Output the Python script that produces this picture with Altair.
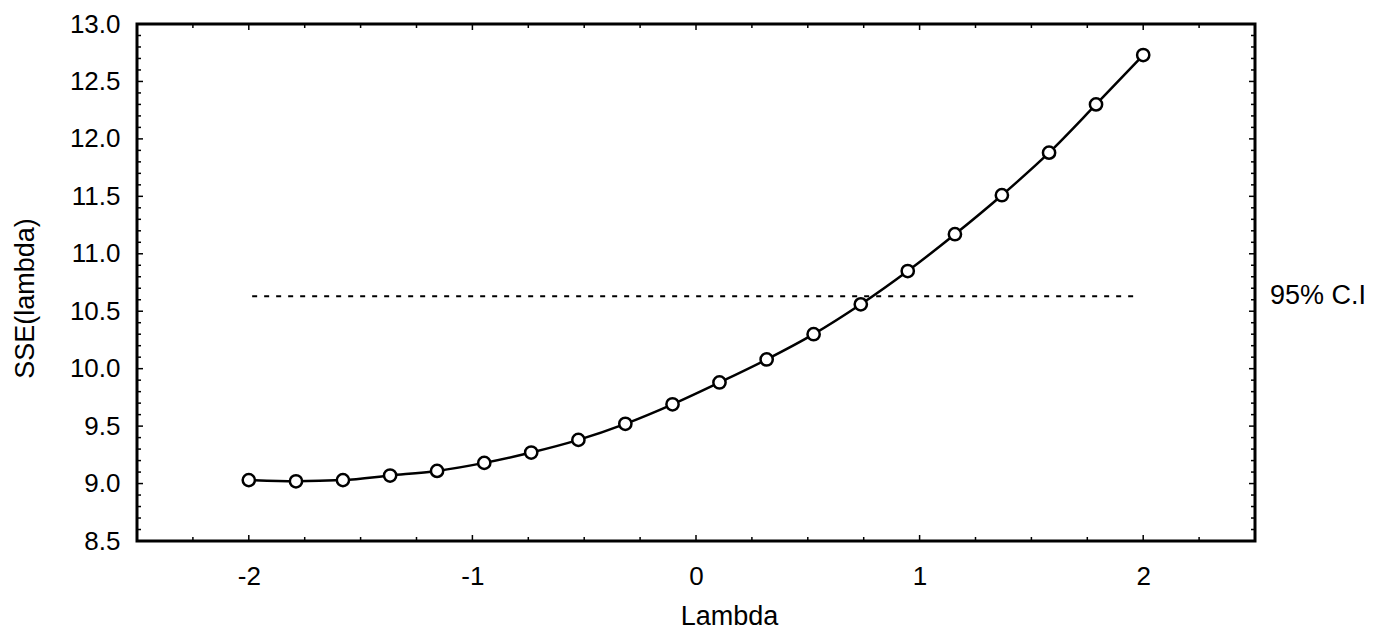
import altair as alt
import numpy as np
import pandas as pd

# Box-Cox profile: SSE as a function of lambda
lambdas = [-2.000, -1.789, -1.579, -1.368, -1.158, -0.947, -0.737, -0.526, -0.316, -0.105,
           0.105, 0.316, 0.526, 0.737, 0.947, 1.158, 1.368, 1.579, 1.789, 2.000]
sse = [9.03, 9.02, 9.03, 9.07, 9.11, 9.18, 9.27, 9.38, 9.52, 9.69,
       9.88, 10.08, 10.30, 10.56, 10.85, 11.17, 11.51, 11.88, 12.30, 12.73]

# 95% confidence threshold line
ci_level = 10.63
ci_span = [-1.985, 1.955]
ci_label = "95% C.I"

x_domain = [-2.5, 2.5]
y_domain = [8.5, 13.0]
x_ticks = [-2, -1, 0, 1, 2]
y_ticks = [8.5, 9.0, 9.5, 10.0, 10.5, 11.0, 11.5, 12.0, 12.5, 13.0]

W, H = 1118, 517
FONT = "Liberation Sans"

df = pd.DataFrame({"lambda": lambdas, "sse": sse})
ci_df = pd.DataFrame({"x": [ci_span[0]], "x2": [ci_span[1]], "y": [ci_level], "label": [ci_label]})

# inner tick marks on all four sides of the frame
xt = np.round(np.arange(-2.25, 2.26, 0.25), 2)
yt = np.round(np.arange(8.6, 12.95, 0.1), 2)
xt_df = pd.DataFrame({"v": xt, "major": np.isclose(xt % 1, 0)})
yt_df = pd.DataFrame({"v": yt, "major": np.isclose((yt * 2) % 1, 0)})

xs = alt.Scale(domain=x_domain, nice=False, zero=False)
ys = alt.Scale(domain=y_domain, nice=False, zero=False)

x_axis = alt.Axis(
    values=x_ticks, title="Lambda", grid=False, domain=False, ticks=False,
    labelFont=FONT, labelFontSize=26, labelColor="black", labelPadding=22,
    labelExpr="datum.value < 0 ? '-' + abs(datum.value) : '' + datum.value",
    titleFont=FONT, titleFontSize=27, titleFontWeight="normal", titleColor="black",
    titleX=592, titleY=83, titleBaseline="alphabetic", titleAlign="center",
)
y_axis = alt.Axis(
    values=y_ticks, format=".1f", title="SSE(lambda)", grid=False, domain=False, ticks=False,
    labelFont=FONT, labelFontSize=26, labelColor="black", labelPadding=17,
    titleFont=FONT, titleFontSize=27, titleFontWeight="normal", titleColor="black",
    titleX=-104, titleY=274, titleBaseline="alphabetic", titleAlign="center", titleAngle=-90,
)

base = alt.Chart(df)

line = base.mark_line(color="black", strokeWidth=2.5, interpolate="monotone").encode(
    x=alt.X("lambda:Q", scale=xs, axis=x_axis),
    y=alt.Y("sse:Q", scale=ys, axis=y_axis),
)
points = base.mark_point(shape="circle", size=150, filled=False, fill="white",
                         fillOpacity=1, stroke="black", strokeWidth=2.5, opacity=1).encode(
    x=alt.X("lambda:Q", scale=xs),
    y=alt.Y("sse:Q", scale=ys),
)

ci_rule = alt.Chart(ci_df).mark_rule(color="black", strokeWidth=2, strokeDash=[5, 7]).encode(
    x=alt.X("x:Q", scale=xs), x2="x2:Q", y=alt.Y("y:Q", scale=ys),
)
ci_text = alt.Chart(ci_df).mark_text(align="left", baseline="middle", font=FONT,
                                     fontSize=27, color="black").encode(
    x=alt.value(W + 15), y=alt.Y("y:Q", scale=ys), text="label:N",
)


def xtick_layers(major, length):
    d = alt.Chart(xt_df[xt_df["major"] == major])
    enc = dict(x=alt.X("v:Q", scale=xs))
    bottom = d.mark_rule(color="black", strokeWidth=1.5).encode(
        y=alt.value(H), y2=alt.value(H - length), **enc)
    top = d.mark_rule(color="black", strokeWidth=1.5).encode(
        y=alt.value(0), y2=alt.value(length), **enc)
    return [bottom, top]


def ytick_layers(major, length):
    d = alt.Chart(yt_df[yt_df["major"] == major])
    enc = dict(y=alt.Y("v:Q", scale=ys))
    left = d.mark_rule(color="black", strokeWidth=1.5).encode(
        x=alt.value(0), x2=alt.value(length), **enc)
    right = d.mark_rule(color="black", strokeWidth=1.5).encode(
        x=alt.value(W), x2=alt.value(W - length), **enc)
    return [left, right]


ticks = xtick_layers(True, 6) + xtick_layers(False, 4) + ytick_layers(True, 6) + ytick_layers(False, 4)

chart = alt.layer(*ticks, ci_rule, line, points, ci_text).properties(
    width=W, height=H,
    autosize=alt.AutoSizeParams(type="none"),
    padding={"left": 137, "top": 24, "right": 122, "bottom": 103},
    background="white",
).configure_view(stroke="black", strokeWidth=3)

chart.save("out.html", embed_options={"renderer": "svg", "actions": False})
